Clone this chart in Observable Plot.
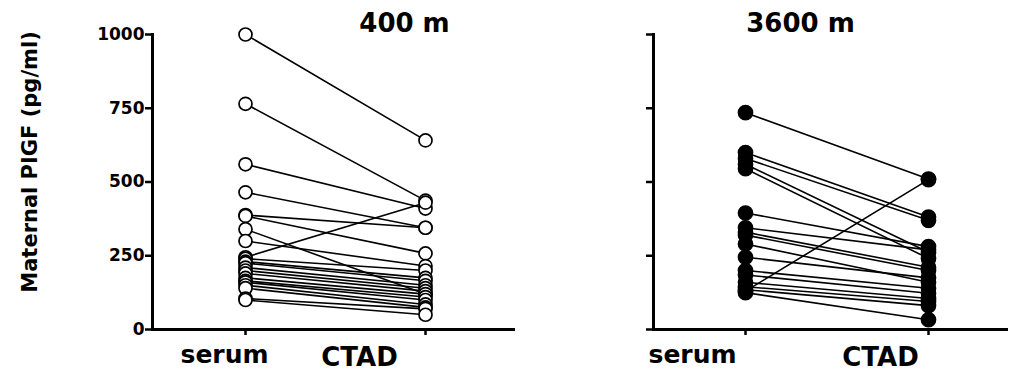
<!DOCTYPE html>
<html>
<head>
<meta charset="utf-8">
<script src="https://cdn.jsdelivr.net/npm/d3@7"></script>
<script src="https://cdn.jsdelivr.net/npm/@observablehq/plot@0.6"></script>
<style>
  html, body { margin: 0; padding: 0; background: #fff; }
  #wrap { position: relative; width: 1011px; height: 372px; overflow: hidden; }
  #wrap svg { position: absolute; top: 0; font-family: "DejaVu Sans", sans-serif; }
</style>
</head>
<body>
<div id="wrap"></div>
<script>
// ---- data ----
const groups = ["serum", "CTAD"];
const yTicks = [0, 250, 500, 750, 1000];
const yLabel = "Maternal PIGF (pg/ml)";
const titles = ["400 m", "3600 m"];

// 400 m: paired values (serum -> CTAD)
const serum400 = [1000, 765, 560, 465, 388, 385, 340, 300, 245, 240, 230, 225, 210, 200, 190, 175, 165, 160, 150, 140, 105, 100];
const ctad400  = [ 641, 437, 410, 345, 345, 258, 120, 215, 430, 200, 175, 165, 150, 140, 130, 120, 110, 100,  85,  75,  70,  50];

// 3600 m: paired values (serum -> CTAD)
const serum3600 = [735, 600, 580, 560, 545, 395, 345, 330, 320, 290, 245, 200, 185, 160, 145, 135, 130, 125];
const ctad3600  = [510, 381, 370, 262, 241, 281, 270, 211, 200, 160, 175, 140, 123, 105,  95,  81, 508,  33];

function toRows(serum, ctad) {
  const rows = [];
  serum.forEach((v, i) => {
    rows.push({id: i, group: groups[0], value: v});
    rows.push({id: i, group: groups[1], value: ctad[i]});
  });
  return rows;
}

const font = {fontWeight: "bold", fill: "black"};

function panel({rows, width, marginLeft, marginRight, xRange, title, titleDx, showYLabels, filled, labelDx}) {
  const frameMid = (marginLeft + width - marginRight) / 2;
  const marks = [
    Plot.frame({anchor: "left", stroke: "black", strokeWidth: 3}),
    Plot.frame({anchor: "bottom", stroke: "black", strokeWidth: 3}),
    Plot.axisY({ticks: yTicks, tickSize: 7, tickPadding: 1, strokeWidth: 2.5, fontSize: 17, ...font,
                tickFormat: showYLabels ? (d => String(d)) : (() => ""), label: null}),
    Plot.axisX({tickSize: 6, strokeWidth: 2.5, tickFormat: () => "", label: null}),
    Plot.axisX({ticks: [groups[0]], tickSize: 0, tickPadding: 16, dx: labelDx[0], fontSize: 25, ...font, label: null}),
    Plot.axisX({ticks: [groups[1]], tickSize: 0, tickPadding: 18, dx: labelDx[1], fontSize: 26, ...font, label: null}),
    Plot.line(rows, {x: "group", y: "value", z: "id", stroke: "black", strokeWidth: 1.6}),
    Plot.dot(rows, {x: "group", y: "value", r: filled ? 7 : 6.5, fill: filled ? "black" : "white", stroke: "black", strokeWidth: 1.7}),
    Plot.text([title], {frameAnchor: "top", dx: titleDx - frameMid, dy: -3, lineAnchor: "bottom", fontSize: 26, ...font})
  ];
  if (showYLabels) {
    marks.push(Plot.text([yLabel], {frameAnchor: "left", textAnchor: "middle", lineAnchor: "middle", rotate: -90,
                                    dx: 30 - marginLeft, dy: -20, fontSize: 21, ...font}));
  }
  return Plot.plot({
    width, height: 372,
    marginLeft, marginRight, marginTop: 34, marginBottom: 43,
    x: {type: "point", domain: groups, range: xRange, padding: 0, axis: null},
    y: {domain: [0, 1000], axis: null},
    marks
  });
}

const wrap = document.getElementById("wrap");

const left = panel({
  rows: toRows(serum400, ctad400), width: 520, marginLeft: 152, marginRight: 7,
  xRange: [245, 425], title: titles[0], titleDx: 404, showYLabels: true, filled: false,
  labelDx: [-21, -66]
});
left.style.left = "0px";
wrap.appendChild(left);

const right = panel({
  rows: toRows(serum3600, ctad3600), width: 491, marginLeft: 133, marginRight: 5,
  xRange: [225, 408], title: titles[1], titleDx: 280, showYLabels: false, filled: true,
  labelDx: [-53, -48]
});
right.style.left = "520px";
wrap.appendChild(right);
</script>
</body>
</html>
